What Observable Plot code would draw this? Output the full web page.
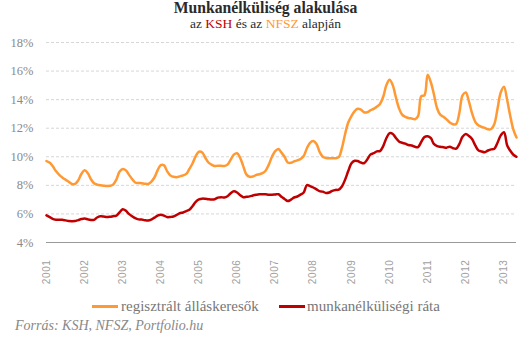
<!DOCTYPE html>
<html><head><meta charset="utf-8">
<script src="https://cdn.jsdelivr.net/npm/d3@7"></script>
<script src="https://cdn.jsdelivr.net/npm/@observablehq/plot@0.6"></script>
<style>
body{margin:0;width:531px;height:342px;position:relative;background:#fff;overflow:hidden;font-family:"Liberation Serif",serif;}
#title{position:absolute;top:0px;left:0;width:531px;text-align:center;font-weight:bold;font-size:15.7px;color:#2a2a2a;line-height:16px;}
#subtitle{position:absolute;top:16px;left:0;width:531px;text-align:center;font-size:13.5px;color:#2a2a2a;line-height:16px;}
#chart{position:absolute;top:36px;left:0;}
.lg{position:absolute;top:298px;font-size:15px;color:#777;line-height:16px;white-space:nowrap;font-family:"Liberation Serif",serif;}
.sw{position:absolute;top:305px;height:3px;width:26px;}
#caption{position:absolute;top:318px;left:15px;font-size:14px;font-style:italic;color:#888;white-space:nowrap;font-family:"Liberation Serif",serif;}
</style>
</head><body>
<div id="title">Munkanélküliség alakulása</div>
<div id="subtitle">az <span style="color:#c00000">KSH</span> és az <span style="color:#ff9933">NFSZ</span> alapján</div>
<div id="chart"></div>
<div class="sw" style="left:92px;background:#ff9933"></div>
<div class="lg" style="left:121px">regisztrált álláskeresők</div>
<div class="sw" style="left:279px;background:#c00000"></div>
<div class="lg" style="left:307px">munkanélküliségi ráta</div>
<div id="caption">Forrás: KSH, NFSZ, Portfolio.hu</div>
<script>
// monthly data, January 2001 .. May 2013
const startYear = 2001;
const seriesNames = ["regisztrált álláskeresők", "munkanélküliségi ráta"];
const registered = [
9.7,9.58,9.35,9.0,8.75,8.55,8.4,8.25,8.1,8.1,8.35,8.8,
9.05,8.85,8.45,8.15,8.05,8.0,7.98,7.95,7.97,8.05,8.4,8.95,
9.15,9.05,8.75,8.45,8.2,8.17,8.15,8.12,8.1,8.25,8.55,9.05,
9.42,9.4,9.0,8.7,8.6,8.57,8.63,8.7,8.8,9.15,9.55,10.05,
10.35,10.3,9.95,9.6,9.45,9.35,9.38,9.37,9.35,9.45,9.8,10.15,
10.25,9.9,9.35,8.75,8.6,8.62,8.72,8.78,8.85,9.02,9.45,10.0,
10.4,10.55,10.3,10.0,9.6,9.58,9.68,9.75,9.85,10.05,10.6,10.98,
11.1,10.9,10.35,10.0,9.92,9.9,9.9,9.9,9.97,10.6,11.6,12.4,
12.85,13.2,13.36,13.3,13.12,13.12,13.25,13.35,13.5,13.7,14.2,15.0,
15.39,15.0,14.2,13.4,12.95,12.8,12.72,12.68,12.63,12.85,14.25,14.3,
15.75,15.2,14.4,13.4,12.95,12.8,12.62,12.4,12.28,12.3,13.1,14.3,
14.5,13.85,13.05,12.45,12.2,12.1,12.02,11.92,11.95,12.3,13.4,14.5,
14.9,13.95,12.9,11.9,11.35
];
const unemployment = [
5.9,5.78,5.66,5.6,5.59,5.59,5.55,5.5,5.49,5.5,5.57,5.64,
5.68,5.62,5.58,5.58,5.75,5.83,5.82,5.78,5.8,5.84,5.88,6.1,
6.33,6.22,6.0,5.84,5.7,5.62,5.61,5.56,5.54,5.6,5.74,5.88,
5.95,5.88,5.78,5.79,5.82,5.93,6.05,6.1,6.2,6.29,6.55,6.85,
7.02,7.07,7.06,7.03,7.01,7.03,7.14,7.17,7.15,7.24,7.45,7.58,
7.5,7.3,7.17,7.2,7.23,7.29,7.34,7.38,7.38,7.37,7.34,7.34,
7.36,7.38,7.2,7.05,6.9,7.0,7.15,7.22,7.35,7.5,8.02,7.95,
7.85,7.72,7.6,7.56,7.47,7.5,7.62,7.68,7.7,7.92,8.4,9.0,
9.55,9.72,9.7,9.6,9.55,9.81,10.15,10.25,10.38,10.4,10.75,11.3,
11.65,11.6,11.33,11.07,10.98,10.92,10.82,10.79,10.7,10.68,11.05,11.38,
11.44,11.3,10.9,10.75,10.7,10.67,10.64,10.7,10.6,10.57,10.9,11.4,
11.6,11.45,11.25,10.8,10.45,10.37,10.32,10.44,10.52,10.56,11.0,11.5,
11.72,10.79,10.44,10.14,10.0
];
const yTicks = [4, 6, 8, 10, 12, 14, 16, 18];
const xTickYears = [2001,2002,2003,2004,2005,2006,2007,2008,2009,2010,2011,2012,2013];
const colors = ["#ff9933", "#c00000"];

const monthDate = (i) => new Date(Date.UTC(startYear, i, 1));
const rows = [];
registered.forEach((v, i) => rows.push({date: monthDate(i), value: v, series: seriesNames[0]}));
unemployment.forEach((v, i) => rows.push({date: monthDate(i), value: v, series: seriesNames[1]}));
const yearDates = xTickYears.map(y => new Date(Date.UTC(y, 0, 1)));

const chart = Plot.plot({
  width: 531,
  height: 254,
  marginTop: 6,
  marginBottom: 48,
  marginLeft: 46,
  marginRight: 15,
  style: {background: "#fff", overflow: "visible", fontFamily: "Liberation Serif"},
  x: {type: "utc", domain: [monthDate(0), monthDate(registered.length - 1)]},
  y: {domain: [4, 18]},
  color: {domain: seriesNames, range: colors},
  marks: [
    Plot.ruleY(yTicks.filter(d => d > 4), {stroke: "#d6d6d6", strokeDasharray: "3,2", strokeWidth: 1}),
    Plot.ruleY([4], {stroke: "#999", strokeWidth: 1}),
    Plot.axisY(yTicks, {tickSize: 0, tickPadding: 13, tickFormat: d => d + "%", fontSize: 12.5, color: "#8a8a8a", label: null}),
    Plot.axisX(yearDates, {tickSize: 0, tickPadding: 17, tickRotate: -90, tickFormat: d => String(d.getUTCFullYear()), fontSize: 10, color: "#a0a0a0", label: null}),
    Plot.line(rows, {x: "date", y: "value", z: "series", stroke: "series", strokeWidth: 2.5, curve: "catmull-rom"})
  ]
});
d3.select(chart).selectAll("g[aria-label^='y-axis'] text").style("font-family", "'Liberation Serif', serif");
d3.select(chart).selectAll("g[aria-label^='x-axis'] text").style("font-family", "'Liberation Sans', sans-serif").attr("letter-spacing", "0.6px");
document.getElementById("chart").appendChild(chart);
</script>
</body></html>
